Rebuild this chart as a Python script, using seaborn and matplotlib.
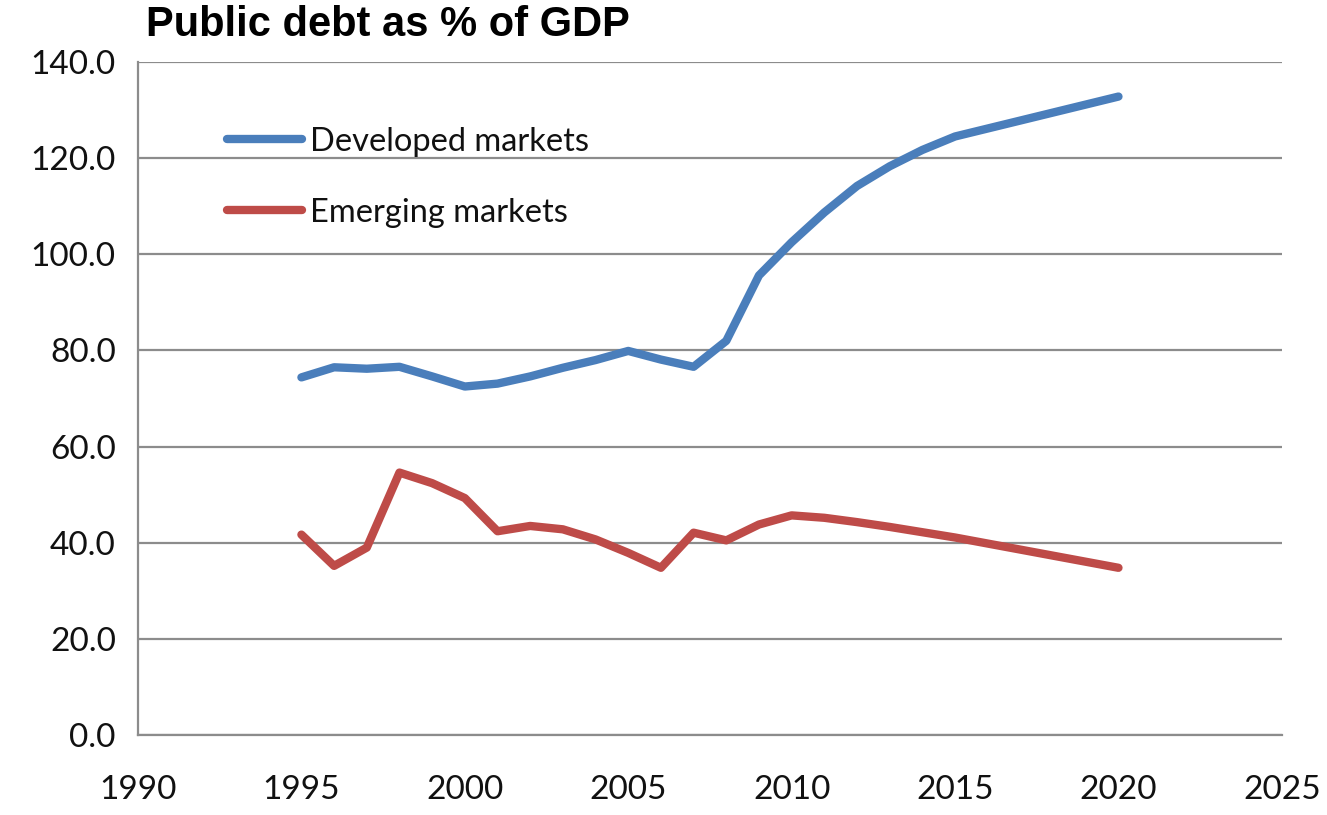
import matplotlib
matplotlib.use("Agg")
import matplotlib.pyplot as plt
import seaborn as sns
import pandas as pd
from matplotlib.ticker import FormatStrFormatter, MultipleLocator

# Public debt (% of GDP)
years = [1995, 1996, 1997, 1998, 1999, 2000, 2001, 2002, 2003, 2004, 2005,
         2006, 2007, 2008, 2009, 2010, 2011, 2012, 2013, 2014, 2015, 2020]
developed = [74.4, 76.5, 76.2, 76.6, 74.6, 72.5, 73.1, 74.6, 76.4, 78.0, 79.9,
             78.1, 76.6, 82.0, 95.6, 102.5, 108.7, 114.2, 118.3, 121.7, 124.5, 132.8]
emerging = [41.7, 35.2, 39.0, 54.6, 52.4, 49.3, 42.4, 43.5, 42.8, 40.7, 37.9,
            34.8, 42.1, 40.5, 43.8, 45.7, 45.2, 44.3, 43.3, 42.2, 41.1, 34.8]
series_names = ["Developed markets", "Emerging markets"]
colors = ["#4A7EBB", "#BE4B48"]

df = pd.DataFrame({"year": years, series_names[0]: developed, series_names[1]: emerging})
long = df.melt(id_vars="year", var_name="series", value_name="debt")

sns.set_theme(style="white")
plt.rcParams["font.family"] = ["Lato", "DejaVu Sans"]

fig = plt.figure(figsize=(13.27, 8.15), dpi=100)
ax = fig.add_axes([0.104, 0.098, 0.862, 0.826])

sns.lineplot(data=long, x="year", y="debt", hue="series", hue_order=series_names,
             palette=colors, linewidth=6, ax=ax, legend=True,
             solid_capstyle="round", solid_joinstyle="round")

ax.set_xlim(1990, 2025)
ax.set_ylim(0, 140)
ax.xaxis.set_major_locator(MultipleLocator(5))
ax.yaxis.set_major_locator(MultipleLocator(20))
ax.yaxis.set_major_formatter(FormatStrFormatter("%.1f"))
ax.set_xlabel("")
ax.set_ylabel("")

grid_col = "#8c8c8c"
ax.grid(axis="y", color=grid_col, linewidth=1.6)
ax.set_axisbelow(True)
for side in ["top", "right"]:
    ax.spines[side].set_visible(False)
for side in ["left", "bottom"]:
    ax.spines[side].set_color(grid_col)
    ax.spines[side].set_linewidth(1.6)

ax.tick_params(axis="both", direction="out", length=7, width=1.6, color=grid_col,
               labelsize=24, labelcolor="#111111")
ax.tick_params(axis="x", pad=22)
ax.tick_params(axis="y", pad=9)

leg = ax.legend(loc="upper left", bbox_to_anchor=(0.066, 0.923), frameon=False,
                fontsize=23.5, handlelength=2.3, handletextpad=0.25, labelspacing=1.25,
                borderaxespad=0)
for t in leg.get_texts():
    t.set_color("#111111")
for h in leg.get_lines():
    h.set_linewidth(6)
    h.set_solid_capstyle("round")

fig.text(146 / 1327, 1 - 25 / 815, "Public debt as % of GDP", fontsize=30,
         fontweight="bold", family="Liberation Sans", color="black",
         ha="left", va="center")

fig.savefig("out.png", dpi=100)
